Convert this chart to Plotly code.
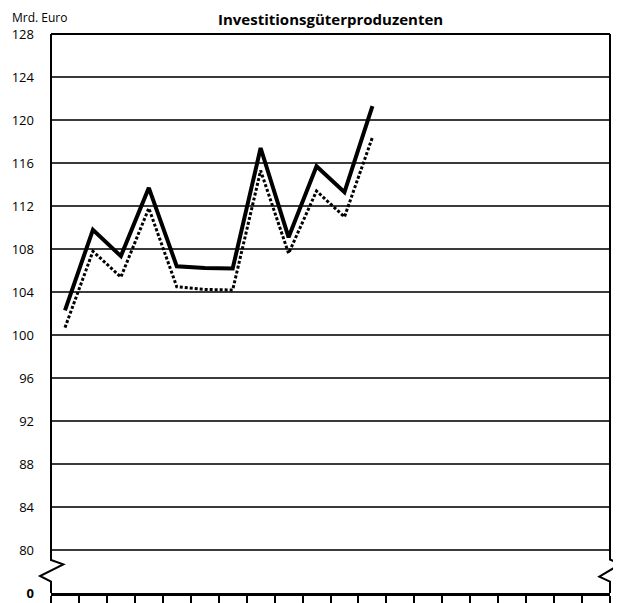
import plotly.graph_objects as go

# ---- data ----
quarters = [0.5, 1.5, 2.5, 3.5, 4.5, 5.5, 6.5, 7.5, 8.5, 9.5, 10.5, 11.5]
series_solid = [102.3, 109.8, 107.35, 113.7, 106.4, 106.25, 106.2, 117.4, 109.1, 115.7, 113.3, 121.3]
series_dotted = [100.7, 107.8, 105.4, 111.8, 104.5, 104.25, 104.2, 115.3, 107.6, 113.4, 111.0, 118.4]
axis_break_value = 76.03  # where the broken axis shows "0"
y_tick_vals = [axis_break_value, 80, 84, 88, 92, 96, 100, 104, 108, 112, 116, 120, 124, 128]
y_tick_text = ["<b>0</b>", "80", "84", "88", "92", "96", "100", "104", "108", "112", "116", "120", "124", "128"]
title_text = "Investitionsgüterproduzenten"
unit_text = "Mrd. Euro"

# page has an 8px body margin; work in page pixel coordinates
OFF = 8
W, H = 621 - OFF, 603 - OFF
PLOT_L, PLOT_R, PLOT_T, PLOT_B = 51, 610, 34, 593  # page pixels
L = PLOT_L - OFF
T = PLOT_T - OFF
R = W - (PLOT_R - OFF)
B = H - (PLOT_B - OFF)
pw, ph = W - L - R, H - T - B

def px(x):
    return (x - PLOT_L) / pw

def py(y):
    return (PLOT_B - y) / ph

FONT = "Open Sans"

fig = go.Figure()
fig.add_trace(go.Scatter(x=quarters, y=series_solid, mode="lines",
                         line=dict(color="black", width=4), showlegend=False,
                         cliponaxis=False))
fig.add_trace(go.Scatter(x=quarters, y=series_dotted, mode="lines",
                         line=dict(color="black", width=3, dash="3px,2px"), showlegend=False,
                         cliponaxis=False))

# frame: top border, left/right borders with axis-break zigzag
fig.add_shape(type="line", xref="paper", yref="paper", x0=0, x1=1, y0=1, y1=1,
              line=dict(color="black", width=2))
left_path = (f"M {px(51)},{py(34)} L {px(51)},{py(560)} L {px(63.3)},{py(564.3)} "
             f"L {px(40)},{py(576)} L {px(51)},{py(581.7)} L {px(51)},{py(593)}")
right_path = (f"M {px(610)},{py(34)} L {px(610)},{py(559.5)} L {px(620)},{py(564.3)} "
              f"L {px(599.3)},{py(576.7)} L {px(610)},{py(581.7)} L {px(610)},{py(593)}")
for p in (left_path, right_path):
    fig.add_shape(type="path", xref="paper", yref="paper", path=p,
                  line=dict(color="black", width=2), layer="above")

fig.add_annotation(text=f"<b>{title_text}</b>", xref="paper", yref="paper",
                   x=px(330), y=py(8), xanchor="center", yanchor="top", borderpad=0,
                   showarrow=False, font=dict(family=FONT, size=15, color="black"))
fig.add_annotation(text=unit_text, xref="paper", yref="paper",
                   x=px(11), y=py(8), xanchor="left", yanchor="top", borderpad=0,
                   showarrow=False, font=dict(family=FONT, size=12, color="black"))

fig.update_layout(
    width=W, height=H, template="none",
    margin=dict(l=L, r=R, t=T, b=B, pad=0),
    paper_bgcolor="white", plot_bgcolor="white",
    xaxis=dict(range=[0, 20], showgrid=False, zeroline=False, showticklabels=False,
               showline=True, linecolor="black", linewidth=2.5,
               ticks="outside", tickmode="linear", tick0=0, dtick=4, ticklen=11,
               tickwidth=1.5, tickcolor="black", automargin=False,
               minor=dict(ticks="outside", dtick=1, tick0=0, ticklen=8, tickwidth=1.5,
                          tickcolor="black", showgrid=False)),
    yaxis=dict(range=[axis_break_value, 128], tickmode="array", tickvals=y_tick_vals,
               ticktext=y_tick_text, showgrid=True, gridcolor="#3a3a3a", gridwidth=1.5,
               zeroline=False, showline=False, ticks="", ticklabelstandoff=16,
               tickfont=dict(family=FONT, size=13, color="black"), automargin=False),
)

fig.write_html("out.html")
